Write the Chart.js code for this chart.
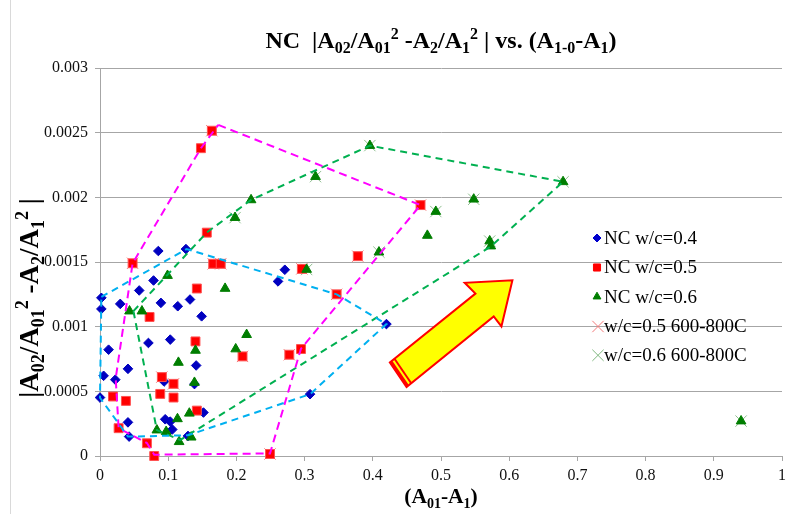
<!DOCTYPE html>
<html lang="en">
<head>
<meta charset="utf-8">
<title>NC |A02/A01^2 - A2/A1^2| vs. (A1-0 - A1)</title>
<script src="https://cdn.jsdelivr.net/npm/chart.js@4.4.1/dist/chart.umd.min.js"></script>
<style>
  body { margin: 0; background: #fff; }
  #wrap { position: relative; width: 797px; height: 514px; }
</style>
</head>
<body>
<div id="wrap"><canvas id="c" width="797" height="514"></canvas></div>
<script>
// ---- data ----
var nc04X = [0.0855, 0.126, 0.271, 0.261, 0.0785, 0.0575, 0.0297, 0.0893, 0.114, 0.132, 0.149, 0.002, 0.002, 0.071, 0.103, 0.0126,
             0.041, 0.141, 0.0053, 0.0224, 0.094, 0.1385, 0.0, 0.308, 0.42, 0.041, 0.1517, 0.0956, 0.103, 0.106, 0.0427, 0.129];
var nc04Y = [0.001585, 0.0016, 0.00144, 0.00135, 0.001357, 0.00128, 0.001176, 0.001184, 0.001158, 0.00121, 0.00108, 0.001223, 0.001137, 0.000874, 0.0009, 0.000822,
             0.000674, 0.0007, 0.00062, 0.00059, 0.000576, 0.000556, 0.000452, 0.000478, 0.00102, 0.00026, 0.000336, 0.000284, 0.000266, 0.000205, 0.00015, 0.000155];

var nc05X = [0.164, 0.148, 0.1566, 0.0478, 0.166, 0.177, 0.296, 0.347, 0.142, 0.0727, 0.140, 0.209, 0.2776, 0.2947,
             0.0907, 0.1078, 0.0883, 0.1078, 0.019, 0.038, 0.142, 0.0273, 0.0688, 0.0795, 0.2493, 0.47, 0.378];
var nc05Y = [0.002515, 0.00238, 0.001727, 0.00149, 0.001486, 0.001486, 0.001447, 0.00125, 0.001295, 0.001075, 0.000886, 0.00077, 0.000783, 0.000827,
             0.00061, 0.000558, 0.00048, 0.000452, 0.00046, 0.000426, 0.000351, 0.000215, 0.0000985, 0.0, 0.0000155, 0.00194, 0.001545];

var nc06X = [0.316, 0.2215, 0.198, 0.3957, 0.679, 0.548, 0.4924, 0.48, 0.409, 0.5714, 0.573, 0.303, 0.099, 0.1834,
             0.0433, 0.0615, 0.215, 0.199, 0.14, 0.115, 0.1385, 0.1136, 0.131, 0.0834, 0.097, 0.116, 0.1337, 0.94];
var nc06Y = [0.00216, 0.00198, 0.001843, 0.0024, 0.00212, 0.001985, 0.00189, 0.001705, 0.001576, 0.001662, 0.001623, 0.001442, 0.001395, 0.001295,
             0.00112, 0.00112, 0.000938, 0.000827, 0.000816, 0.000723, 0.000568, 0.000287, 0.00033, 0.0002, 0.000188, 0.00011, 0.000145, 0.00027];

var hot05X = [0.164, 0.0478, 0.166, 0.177, 0.296, 0.347, 0.209, 0.2776, 0.0907, 0.1078, 0.2493, 0.47, 0.378];
var hot05Y = [0.002515, 0.00149, 0.001486, 0.001486, 0.001447, 0.00125, 0.00077, 0.000783, 0.00061, 0.000558, 0.0000155, 0.00194, 0.001545];

var hot06X = [0.316, 0.198, 0.3957, 0.679, 0.548, 0.4924, 0.409, 0.5714, 0.303, 0.94];
var hot06Y = [0.00216, 0.001843, 0.0024, 0.00212, 0.001985, 0.00189, 0.001576, 0.001662, 0.001442, 0.00027];

// dashed outlines (vertices in data units)
var hull04X = [0.002, 0.127, 0.347, 0.42, 0.308, 0.129, 0.041, 0.0, 0.002];
var hull04Y = [0.00123, 0.0016, 0.00125, 0.00102, 0.000478, 0.00016, 0.00015, 0.00045, 0.00123];
var hull05X = [0.1735, 0.47, 0.2947, 0.2493, 0.0795, 0.0688, 0.0273, 0.023, 0.0478, 0.148, 0.1735];
var hull05Y = [0.00256, 0.00194, 0.00083, 0.00002, 0.00001, 0.0001, 0.000215, 0.0006, 0.00149, 0.00238, 0.00256];
var hull06X = [0.049, 0.157, 0.2215, 0.3957, 0.679, 0.573, 0.1177, 0.0834, 0.049];
var hull06Y = [0.00112, 0.00173, 0.00198, 0.0024, 0.00212, 0.00162, 0.000124, 0.0002, 0.00112];

// big arrow outline
var arrowX = [0.6047, 0.5886, 0.5773, 0.4495, 0.425, 0.5505, 0.5348];
var arrowY = [0.001359, 0.001002, 0.001079, 0.000533, 0.000723, 0.001256, 0.001339];

var xTickLabels = ['0', '0.1', '0.2', '0.3', '0.4', '0.5', '0.6', '0.7', '0.8', '0.9', '1'];
var yTickLabels = ['0', '0.0005', '0.001', '0.0015', '0.002', '0.0025', '0.003'];

var seriesNames = ['NC w/c=0.4', 'NC w/c=0.5', 'NC w/c=0.6', 'w/c=0.5 600-800C', 'w/c=0.6 600-800C'];

// title pieces: [text, 0 normal / -1 subscript / 1 superscript]
var titleParts = [['NC  |A',0],['02',-1],['/A',0],['01',-1],['2',1],[' -A',0],['2',-1],['/A',0],['1',-1],['2',1],[' | vs. (A',0],['1-0',-1],['-A',0],['1',-1],[')',0]];
var yTitleParts = [['|A',0],['02',-1],['/A',0],['01',-1],['2',1],[' -A',0],['2',-1],['/A',0],['1',-1],['2',1],[' |',0]];
var xTitleParts = [['(A',0],['01',-1],['-A',0],['1',-1],[')',0]];

function zip(xs, ys) {
  return xs.map(function (v, i) { return { x: v, y: ys[i] }; });
}

var SERIF = '"Liberation Serif", "Times New Roman", serif';

function richWidth(ctx, parts, size) {
  var w = 0;
  parts.forEach(function (p) {
    ctx.font = 'bold ' + (p[1] ? Math.round(size * 0.65) : size) + 'px ' + SERIF;
    w += ctx.measureText(p[0]).width;
  });
  return w;
}

function drawRich(ctx, parts, cx, baseY, size) {
  var x = cx - richWidth(ctx, parts, size) / 2;
  ctx.textAlign = 'left';
  ctx.textBaseline = 'alphabetic';
  ctx.fillStyle = '#000';
  parts.forEach(function (p) {
    var s = p[1] ? Math.round(size * 0.65) : size;
    ctx.font = 'bold ' + s + 'px ' + SERIF;
    var dy = p[1] === -1 ? size * 0.22 : (p[1] === 1 ? -size * 0.38 : 0);
    ctx.fillText(p[0], x, baseY + dy);
    x += ctx.measureText(p[0]).width;
  });
}

var extras = {
  id: 'extras',
  beforeDraw: function (chart) {
    var ctx = chart.ctx;
    ctx.save();
    ctx.fillStyle = '#fff';
    ctx.fillRect(0, 0, chart.width, chart.height);
    ctx.strokeStyle = '#d9d9d9';
    ctx.lineWidth = 1;
    ctx.beginPath();
    ctx.moveTo(10.5, 0);
    ctx.lineTo(10.5, chart.height);
    ctx.stroke();
    ctx.restore();
  },
  afterDatasetsDraw: function (chart) {
    var ctx = chart.ctx, xs = chart.scales.x, ys = chart.scales.y;
    var pts = arrowX.map(function (v, i) { return [xs.getPixelForValue(v), ys.getPixelForValue(arrowY[i])]; });
    ctx.save();
    ctx.beginPath();
    pts.forEach(function (p, i) { if (i) ctx.lineTo(p[0], p[1]); else ctx.moveTo(p[0], p[1]); });
    ctx.closePath();
    ctx.fillStyle = '#ffff00';
    ctx.fill();
    ctx.strokeStyle = '#ff0000';
    ctx.lineWidth = 2;
    ctx.lineJoin = 'miter';
    ctx.stroke();
    // stripes at the tail
    var a = pts[3], b = pts[4], n = pts[5];
    var dx = n[0] - b[0], dy = n[1] - b[1], len = Math.sqrt(dx * dx + dy * dy);
    dx /= len; dy /= len;
    [[1.5, 3], [6, 2]].forEach(function (s) {
      ctx.beginPath();
      ctx.moveTo(a[0] + dx * s[0], a[1] + dy * s[0]);
      ctx.lineTo(b[0] + dx * s[0], b[1] + dy * s[0]);
      ctx.lineWidth = s[1];
      ctx.stroke();
    });
    ctx.restore();
  },
  afterDraw: function (chart) {
    var ctx = chart.ctx, area = chart.chartArea;
    ctx.save();
    drawRich(ctx, titleParts, 441, 48, 24);
    drawRich(ctx, xTitleParts, (area.left + area.right) / 2, 503, 21.5);
    ctx.translate(38, 298);
    ctx.rotate(-Math.PI / 2);
    drawRich(ctx, yTitleParts, 0, 0, 27);
    ctx.restore();

    // legend
    ctx.save();
    var rows = [238, 267.5, 296.7, 326.5, 355.3];
    var marks = [
      { pointStyle: 'rectRot', radius: 4, fill: '#0000CD', stroke: '#0000CD', bw: 1 },
      { pointStyle: 'rect', radius: 5, fill: '#ff0000', stroke: '#ff0000', bw: 1 },
      { pointStyle: 'triangle', radius: 4.5, fill: '#007E00', stroke: '#007E00', bw: 1 },
      { pointStyle: 'crossRot', radius: 8, fill: '#f47a7a', stroke: '#f47a7a', bw: 1 },
      { pointStyle: 'crossRot', radius: 8, fill: '#7fb87f', stroke: '#7fb87f', bw: 1 }
    ];
    rows.forEach(function (y, i) {
      var m = marks[i];
      ctx.fillStyle = m.fill;
      ctx.strokeStyle = m.stroke;
      ctx.lineWidth = m.bw;
      Chart.helpers.drawPoint(ctx, { pointStyle: m.pointStyle, radius: m.radius, rotation: 0, borderWidth: m.bw }, i < 3 ? 597 : 598, y);
      ctx.fillStyle = '#000';
      ctx.font = '19px ' + SERIF;
      ctx.textAlign = 'left';
      ctx.textBaseline = 'middle';
      ctx.fillText(seriesNames[i], 604, y + 1);
    });
    ctx.restore();
  }
};

function hull(data, color, dash) {
  return {
    label: 'outline', data: data, showLine: true, borderColor: color, borderWidth: 2,
    borderDash: dash, pointRadius: 0, fill: false, order: 0, clip: false, tension: 0
  };
}

var ctx = document.getElementById('c').getContext('2d');
var chart = new Chart(ctx, {
  type: 'scatter',
  data: {
    datasets: [
      hull(zip(hull04X, hull04Y), '#00B0F0', [7, 5]),
      hull(zip(hull05X, hull05Y), '#FF00FF', [8, 5]),
      hull(zip(hull06X, hull06Y), '#00B050', [7, 5]),
      { label: seriesNames[3], data: zip(hot05X, hot05Y), pointStyle: 'crossRot', pointRadius: 8,
        borderColor: '#f47a7a', backgroundColor: '#f47a7a', pointBorderWidth: 1, order: 4, clip: false },
      { label: seriesNames[4], data: zip(hot06X, hot06Y), pointStyle: 'crossRot', pointRadius: 8,
        borderColor: '#8fbf8f', backgroundColor: '#8fbf8f', pointBorderWidth: 1, order: 4, clip: false },
      { label: seriesNames[0], data: zip(nc04X, nc04Y), pointStyle: 'rectRot', pointRadius: 4.8,
        backgroundColor: '#0000C0', borderColor: '#0000C0', pointBorderWidth: 1, order: 3, clip: false },
      { label: seriesNames[1], data: zip(nc05X, nc05Y), pointStyle: 'rect', pointRadius: 6.3,
        backgroundColor: '#ff0000', borderColor: '#ff5050', pointBorderWidth: 1, order: 2, clip: false },
      { label: seriesNames[2], data: zip(nc06X, nc06Y), pointStyle: 'triangle', pointRadius: 5.6,
        backgroundColor: '#007E00', borderColor: '#007E00', pointBorderWidth: 1, order: 1, clip: false }
    ]
  },
  options: {
    responsive: false,
    animation: false,
    events: [],
    layout: { padding: { top: 68, right: 15, left: 0, bottom: 0 } },
    plugins: { legend: { display: false }, title: { display: false }, tooltip: { enabled: false } },
    scales: {
      x: {
        type: 'linear', min: 0, max: 1,
        afterFit: function (s) { s.height = 58; },
        ticks: {
          stepSize: 0.1, autoSkip: false, maxRotation: 0, padding: 5, color: '#111',
          font: { family: SERIF, size: 16 },
          callback: function (v, i) { return xTickLabels[i]; }
        },
        grid: { drawOnChartArea: false, drawTicks: true, tickLength: 5, color: '#a6a6a6' },
        border: { color: '#a6a6a6' }
      },
      y: {
        type: 'linear', min: 0, max: 0.003,
        afterFit: function (s) { s.width = 100; },
        ticks: {
          stepSize: 0.0005, autoSkip: false, padding: 7, color: '#111',
          font: { family: SERIF, size: 16 },
          callback: function (v, i) { return yTickLabels[i]; }
        },
        grid: { color: '#a6a6a6', tickLength: 5 },
        border: { color: '#a6a6a6' }
      }
    }
  },
  plugins: [extras]
});
</script>
</body>
</html>
